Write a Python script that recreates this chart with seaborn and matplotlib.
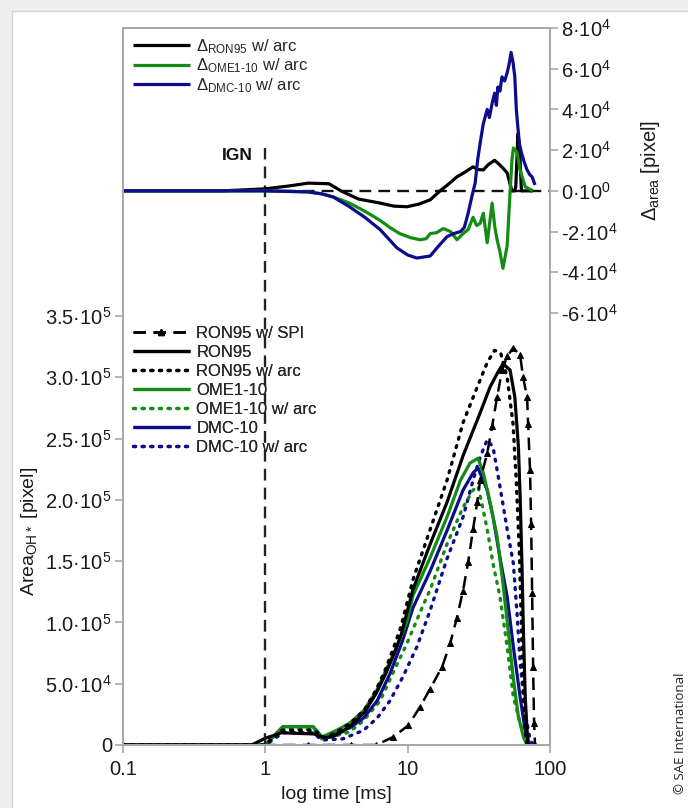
import matplotlib
matplotlib.use("Agg")
import numpy as np
import pandas as pd
import matplotlib.pyplot as plt
import seaborn as sns
from matplotlib.lines import Line2D
from matplotlib.patches import Rectangle
from matplotlib.ticker import NullLocator

# ---------------- OH* area (left axis) ----------------
t_spi = [0.1, 2.0, 4.0, 6.0, 7.9, 10.1, 12.2, 14.4, 17.5, 19.9, 22.2, 24.5, 26.6, 28.8, 30.8,
         32.3, 36.2, 39.2, 42.5, 46.1, 50.0, 55.1, 61.7, 64.7, 69.0, 70.2, 72.4, 73.7, 74.9,
         76.1, 77.3, 78.5]
v_spi = [0, 0, 0, 0, 6.5e3, 1.6e4, 3.1e4, 4.6e4, 6.4e4, 8.3e4, 1.04e5, 1.26e5, 1.49e5, 1.76e5,
         1.98e5, 2.16e5, 2.38e5, 2.60e5, 2.84e5, 3.06e5, 3.17e5, 3.24e5, 3.18e5, 3.00e5, 2.84e5,
         2.62e5, 2.24e5, 1.80e5, 1.24e5, 6.4e4, 1.8e4, 0]

t_ron = [0.1, 0.8, 1.0, 1.3, 2.2, 2.6, 3.0, 3.5, 4.0, 5.0, 6.0, 7.0, 8.0, 9.0, 10.9, 14.4, 18.9,
         24.5, 32.3, 37.9, 42.5, 46.7, 52.4, 56.6, 60.0, 61.7, 63.5, 65.0, 67.0, 69.0, 70.0]
v_ron = [0, 0, 5.5e3, 1.0e4, 9.0e3, 6.0e3, 7.0e3, 1.1e4, 1.6e4, 2.7e4, 4.2e4, 5.8e4, 7.4e4, 9.0e4,
         1.27e5, 1.64e5, 1.98e5, 2.36e5, 2.71e5, 2.92e5, 3.03e5, 3.11e5, 3.06e5, 2.84e5, 2.43e5,
         2.02e5, 1.48e5, 9.4e4, 3.9e4, 1.2e4, 0]

t_ron_arc = [0.1, 1.0, 1.3, 2.2, 2.6, 3.0, 4.0, 5.0, 6.0, 7.0, 8.0, 9.0, 10.9, 14.4, 18.9, 24.5,
             30.8, 36.2, 40.8, 45.0, 50.0, 55.0, 58.0, 61.0, 63.0, 65.0, 67.0, 69.0]
v_ron_arc = [0, 0, 1.2e4, 1.2e4, 6.0e3, 9.0e3, 1.8e4, 2.9e4, 4.5e4, 6.2e4, 8.0e4, 9.7e4, 1.35e5,
             1.76e5, 2.16e5, 2.63e5, 2.92e5, 3.12e5, 3.22e5, 3.20e5, 3.00e5, 2.62e5, 2.15e5,
             1.55e5, 9.5e4, 4.2e4, 1.2e4, 0]

t_ome = [0.1, 1.0, 1.33, 2.16, 2.5, 3.17, 3.93, 4.9, 6.1, 7.1, 8.4, 9.9, 10.9, 14.4, 18.9, 23.5,
         27.4, 31.2, 34.0, 37.9, 42.5, 46.7, 50.8, 55.3, 60.0, 65.1, 69.0]
v_ome = [0, 0, 1.5e4, 1.5e4, 6.5e3, 1.2e4, 1.8e4, 2.8e4, 4.5e4, 6.2e4, 8.0e4, 1.01e5, 1.22e5,
         1.53e5, 1.86e5, 2.16e5, 2.30e5, 2.34e5, 2.22e5, 1.98e5, 1.70e5, 1.32e5, 9.4e4, 5.4e4,
         2.3e4, 6.5e3, 0]

t_ome_arc = [0.1, 1.0, 1.33, 2.16, 2.5, 3.0, 3.9, 4.9, 6.4, 7.9, 9.9, 12.2, 14.4, 18.9, 24.5,
             28.8, 31.2, 33.5, 36.2, 39.8, 44.5, 50.0, 55.3, 61.7, 69.0]
v_ome_arc = [0, 0, 1.3e4, 1.3e4, 5.0e3, 7.0e3, 1.05e4, 2.0e4, 3.6e4, 5.9e4, 8.3e4, 1.08e5, 1.27e5,
             1.64e5, 1.94e5, 2.08e5, 2.11e5, 1.95e5, 1.76e5, 1.48e5, 1.21e5, 8.0e4, 3.9e4,
             1.8e4, 0]

t_dmc = [0.1, 1.0, 1.33, 2.16, 2.5, 3.17, 3.93, 4.9, 6.1, 7.5, 9.2, 10.9, 14.4, 18.9, 24.5, 28.8,
         31.2, 36.2, 39.8, 44.5, 50.0, 55.3, 61.7, 66.9, 72.0]
v_dmc = [0, 0, 1.5e4, 1.5e4, 6.5e3, 1.0e4, 1.4e4, 2.2e4, 3.6e4, 5.8e4, 8.5e4, 1.12e5, 1.42e5,
         1.75e5, 2.08e5, 2.22e5, 2.26e5, 2.08e5, 1.86e5, 1.53e5, 1.21e5, 8.0e4, 3.9e4, 1.2e4, 0]

t_dmc_arc = [0.1, 1.0, 1.33, 2.16, 2.5, 3.5, 4.9, 6.1, 7.5, 9.2, 11.6, 14.4, 18.9, 24.5, 28.8,
             32.3, 36.2, 39.8, 44.5, 50.0, 55.3, 58.6, 61.7, 67.0, 72.0, 76.0]
v_dmc_arc = [0, 0, 1.0e4, 1.0e4, 4.0e3, 5.0e3, 1.2e4, 2.2e4, 3.6e4, 5.5e4, 8.0e4, 1.10e5, 1.52e5,
             1.86e5, 2.16e5, 2.35e5, 2.49e5, 2.43e5, 2.11e5, 1.76e5, 1.48e5, 1.08e5, 6.7e4,
             2.6e4, 6.0e3, 0]

# ---------------- Differences with arc (right axis) ----------------
t_d_ron = [0.1, 0.5, 1.0, 1.5, 2.0, 2.8, 3.4, 4.5, 6.4, 8.0, 9.9, 12.0, 14.4, 16.9, 19.5, 22.2,
           25.0, 28.8, 31.0, 34.0, 37.0, 40.8, 44.0, 47.0, 50.0, 54.0, 56.5, 57.5, 59.5, 61.0,
           63.0, 66.0, 70.0, 76.0]
v_d_ron = [0, 0, 1.0e3, 2.5e3, 3.8e3, 3.5e3, 0, -4.0e3, -6.0e3, -7.5e3, -7.8e3, -6.5e3, -4.4e3, 0,
           3.5e3, 6.9e3, 9.0e3, 1.18e4, 1.05e4, 1.03e4, 1.3e4, 1.5e4, 1.3e4, 1.1e4, 8.8e3, 0, 0,
           2.0e3, 2.8e4, 2.2e4, 0, 0, 0, 0]

t_d_ome = [0.1, 1.0, 2.0, 2.5, 3.0, 3.9, 5.0, 6.4, 7.5, 8.8, 10.5, 12.2, 13.5, 14.4, 16.0, 17.8,
           20.0, 22.2, 24.5, 26.6, 28.8, 30.5, 32.3, 34.0, 36.2, 37.8, 39.2, 41.0, 42.5, 44.5,
           46.7, 48.5, 50.0, 52.0, 54.0, 55.3, 58.6, 61.7, 67.0, 76.0]
v_d_ome = [0, 0, -500, -1.5e3, -3.0e3, -6.0e3, -1.0e4, -1.45e4, -1.8e4, -2.1e4, -2.3e4, -2.4e4,
           -2.35e4, -2.1e4, -2.05e4, -1.85e4, -2.0e4, -2.4e4, -2.1e4, -1.9e4, -1.3e4, -1.7e4,
           -1.6e4, -1.1e4, -2.55e4, -1.5e4, -6.0e3, -1.8e4, -2.4e4, -3.0e4, -3.8e4, -3.2e4,
           -2.7e4, -5.0e3, 1.5e4, 2.1e4, 1.9e4, 1.0e4, 2.0e3, 0]

t_d_dmc = [0.1, 1.0, 2.0, 2.5, 3.0, 3.9, 5.0, 6.4, 8.4, 10.0, 11.6, 14.4, 16.3, 18.9, 21.0, 23.5,
           25.0, 26.6, 28.2, 29.8, 31.0, 32.3, 34.0, 36.2, 37.5, 39.2, 40.8, 42.0, 43.0, 44.5,
           46.0, 48.0, 50.0, 51.5, 53.3, 55.0, 56.6, 58.0, 59.5, 61.0, 63.0, 66.0, 69.0, 72.0,
           74.8, 78.5]
v_d_dmc = [0, 0, -500, -1.5e3, -3.0e3, -7.8e3, -1.3e4, -1.9e4, -2.8e4, -3.15e4, -3.3e4, -3.2e4,
           -2.75e4, -2.25e4, -2.1e4, -2.0e4, -1.8e4, -1.1e4, -3.0e3, 3.9e3, 1.5e4, 2.35e4, 3.3e4,
           4.0e4, 3.6e4, 4.3e4, 4.8e4, 4.2e4, 5.1e4, 4.9e4, 5.6e4, 5.4e4, 5.8e4, 6.2e4, 6.8e4,
           6.3e4, 5.6e4, 4.0e4, 3.1e4, 2.3e4, 1.87e4, 1.4e4, 1.03e4, 8.0e3, 6.9e3, 2.9e3]

# ---------------- Axis ticks ----------------
x_ticks = [0.1, 1, 10, 100]
x_tick_labels = ["0.1", "1", "10", "100"]
left_ticks = [0, 5e4, 1e5, 1.5e5, 2e5, 2.5e5, 3e5, 3.5e5]
left_tick_labels = ["0", "5.0\u00b710$^{4}$", "1.0\u00b710$^{5}$", "1.5\u00b710$^{5}$",
                    "2.0\u00b710$^{5}$", "2.5\u00b710$^{5}$", "3.0\u00b710$^{5}$", "3.5\u00b710$^{5}$"]
right_ticks = [-6e4, -4e4, -2e4, 0, 2e4, 4e4, 6e4, 8e4]
right_tick_labels = ["-6\u00b710$^{4}$", "-4\u00b710$^{4}$", "-2\u00b710$^{4}$", "0\u00b710$^{0}$",
                     "2\u00b710$^{4}$", "4\u00b710$^{4}$", "6\u00b710$^{4}$", "8\u00b710$^{4}$"]

BLACK = "#000000"
GREEN = "#148c14"
BLUE = "#0c0c8c"
SPINE = "#a8a8a8"
TEXT = "#1a1a1a"

sns.set_style("ticks")
plt.rcParams["font.family"] = ["Liberation Sans", "DejaVu Sans"]
plt.rcParams["mathtext.fontset"] = "custom"
plt.rcParams["mathtext.rm"] = "Liberation Sans"
plt.rcParams["mathtext.it"] = "Liberation Sans:italic"
plt.rcParams["mathtext.bf"] = "Liberation Sans:bold"
plt.rcParams["mathtext.default"] = "regular"

fig = plt.figure(figsize=(6.88, 8.08), dpi=100)
fig.patch.set_facecolor("white")

# page frame
fig.patches.append(Rectangle((0, 1 - 11 / 808), 1, 11 / 808, transform=fig.transFigure,
                             facecolor="#eeeeee", edgecolor="none", zorder=-5))
fig.patches.append(Rectangle((0, 0), 12 / 688, 1, transform=fig.transFigure,
                             facecolor="#eeeeee", edgecolor="none", zorder=-5))
fig.lines.append(Line2D([12 / 688, 12 / 688], [0, 1 - 11 / 808], transform=fig.transFigure,
                        color="#d4d4d4", lw=1))
fig.lines.append(Line2D([12 / 688, 1], [1 - 11 / 808, 1 - 11 / 808], transform=fig.transFigure,
                        color="#d4d4d4", lw=1))

ax = fig.add_axes([123 / 688, 1 - 745 / 808, 427 / 688, 717 / 808])
ax.set_xscale("log")
ax.set_xlim(0.1, 100)
ax.set_ylim(0, 5.85e5)
ax2 = ax.twinx()
ax2.set_ylim(-2.722e5, 8e4)

LW = 2.3
solid = dict(lw=LW, solid_capstyle="butt")
dotted = dict(lw=2.4, linestyle=(0, (0.6, 2.0)), dash_capstyle="round")


def draw(axis, t, v, **kw):
    df = pd.DataFrame({"t": t, "v": v})
    sns.lineplot(data=df, x="t", y="v", ax=axis, estimator=None, sort=False, legend=False, **kw)


# lower panel
draw(ax, t_dmc_arc, v_dmc_arc, color=BLUE, **dotted)
draw(ax, t_ome_arc, v_ome_arc, color=GREEN, **dotted)
draw(ax, t_dmc, v_dmc, color=BLUE, **solid)
draw(ax, t_ome, v_ome, color=GREEN, **solid)
draw(ax, t_ron_arc, v_ron_arc, color=BLACK, **dotted)
draw(ax, t_ron, v_ron, color=BLACK, **solid)
draw(ax, t_spi, v_spi, color=BLACK, lw=1.8, linestyle=(0, (5, 3)), marker="^", markersize=5,
     markerfacecolor=BLACK, markeredgecolor=BLACK)

# upper panel
draw(ax2, t_d_ron, v_d_ron, color=BLACK, **solid)
draw(ax2, t_d_ome, v_d_ome, color=GREEN, **solid)
draw(ax2, t_d_dmc, v_d_dmc, color=BLUE, **solid)
ax2.hlines(0, 1, 100, color="#111111", lw=1.7, linestyles=[(0, (5, 3))], zorder=1)

# ignition marker
ax.axvline(1, ymin=0, ymax=(745 - 148) / 717, color="#222222", lw=1.7, linestyle=(0, (5, 3)))
fig.text(237 / 688, 1 - 155 / 808, "IGN", ha="center", va="center", fontsize=12.5,
         fontweight="bold", color="#111111")

# axes styling
for a in (ax, ax2):
    for s in a.spines.values():
        s.set_color(SPINE)
        s.set_linewidth(1.4)
    a.set_xlabel("")
    a.set_ylabel("")

ax.set_xticks(x_ticks)
ax.set_xticklabels(x_tick_labels)
ax.xaxis.set_minor_locator(NullLocator())
ax.set_yticks(left_ticks)
ax.set_yticklabels(left_tick_labels)
ax.yaxis.set_minor_locator(NullLocator())
ax2.set_yticks(right_ticks)
ax2.set_yticklabels(right_tick_labels)
ax2.yaxis.set_minor_locator(NullLocator())

ax.tick_params(axis="both", which="major", direction="out", length=6, width=1.2, color=SPINE,
               labelsize=14.5, labelcolor=TEXT, pad=2)
ax.tick_params(axis="x", pad=5, labelsize=14.5)
ax2.tick_params(axis="y", which="major", direction="out", length=6, width=1.2, color=SPINE,
                labelsize=14.5, labelcolor=TEXT, pad=2)

ax.set_xlabel("log time [ms]", fontsize=14, color=TEXT, labelpad=5)
fig.text(30 / 688, 1 - 531 / 808, "Area$_{OH*}$ [pixel]", rotation=90, ha="center", va="center",
         fontsize=14, color=TEXT)
fig.text(650 / 688, 1 - 170 / 808, "\u0394$_{area}$ [pixel]", rotation=90, ha="center",
         va="center", fontsize=14.5, color=TEXT)

# legends
low_handles = [
    Line2D([], [], color=BLACK, lw=1.8, linestyle=(0, (5, 3)), marker="^", markersize=5,
           markevery=[1]),
    Line2D([], [], color=BLACK, **solid),
    Line2D([], [], color=BLACK, **dotted),
    Line2D([], [], color=GREEN, **solid),
    Line2D([], [], color=GREEN, **dotted),
    Line2D([], [], color=BLUE, **solid),
    Line2D([], [], color=BLUE, **dotted),
]
low_labels = ["RON95 w/ SPI", "RON95", "RON95 w/ arc", "OME1-10", "OME1-10 w/ arc", "DMC-10",
              "DMC-10 w/ arc"]
leg1 = ax.legend(low_handles, low_labels, loc="upper left",
                 bbox_to_anchor=(10 / 427, (745 - 326) / 717), frameon=False, fontsize=12,
                 handlelength=3.4, handletextpad=0.4, labelspacing=0.24, borderaxespad=0,
                 borderpad=0)
ax.add_artist(leg1)

up_handles = [Line2D([], [], color=c, **solid) for c in (BLACK, GREEN, BLUE)]
up_labels = ["\u0394$_{RON95}$ w/ arc", "\u0394$_{OME1\\text{-}10}$ w/ arc",
             "\u0394$_{DMC\\text{-}10}$ w/ arc"]
ax2.legend(up_handles, up_labels, loc="upper left", bbox_to_anchor=(10 / 427, (745 - 37) / 717),
           frameon=False, fontsize=12, handlelength=3.4, handletextpad=0.4, labelspacing=0.05,
           borderaxespad=0, borderpad=0)

fig.text(681 / 688, 1 - 733 / 808, "\u00a9 SAE International", rotation=90, ha="center",
         va="center", fontsize=9.5, family=["Open Sans", "DejaVu Sans"], color="#222222")

fig.savefig("out.png", dpi=100, facecolor=fig.get_facecolor())
